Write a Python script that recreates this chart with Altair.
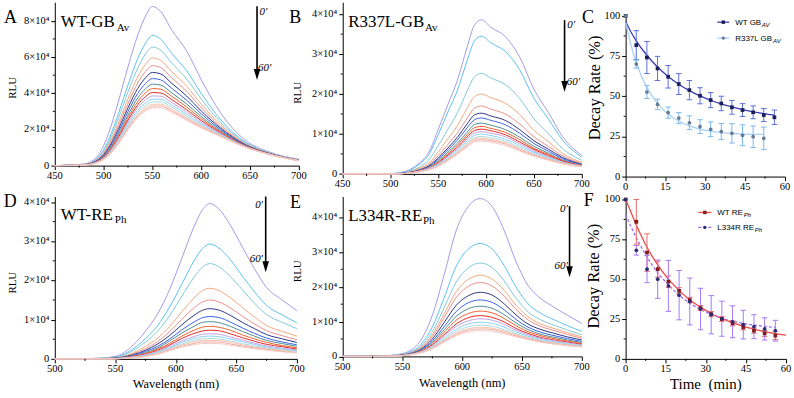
import altair as alt
import pandas as pd

SERIF = "Liberation Serif"
SANS = "Liberation Sans"

CURVE_COLORS = ["#a59ae6", "#5bc3ee", "#82c9d9", "#f4a87c", "#ee8e8c", "#2e3784",
                "#3c62e8", "#4e8e92", "#f0622e", "#e22b26", "#c6a3e6", "#8fd0ef",
                "#abdbe6", "#f7c3a3", "#f2aaa9", "#f5cbc5"]

# ---------------- Panel A: WT-GBAv spectra (values in 1000 RLU) ----------------
A_WL = [450, 480, 495, 505, 515, 525, 535, 543, 550, 558, 570, 585, 600, 620, 645, 670, 700]
A_CURVES = [
    [0, 0.9, 6.2, 17.6, 35.2, 54.6, 72.2, 82.7, 88.0, 85.4, 74.8, 63.4, 47.5, 29.0, 14.1, 7.5, 3.5],
    [0, 0.7, 5.0, 14.1, 28.5, 44.6, 59.2, 67.7, 71.9, 70.1, 61.8, 52.4, 39.9, 25.3, 13.0, 7.1, 3.3],
    [0, 0.7, 4.5, 12.7, 25.8, 40.7, 54.0, 61.7, 65.5, 64.0, 56.6, 48.0, 36.8, 23.8, 12.5, 6.9, 3.2],
    [0, 0.6, 4.0, 11.4, 23.3, 37.0, 49.1, 56.0, 59.5, 58.3, 51.8, 43.9, 34.0, 22.4, 12.1, 6.8, 3.1],
    [0, 0.6, 3.7, 10.5, 21.6, 34.3, 45.7, 52.1, 55.2, 54.3, 48.4, 41.1, 32.0, 21.4, 11.8, 6.7, 3.0],
    [0, 0.5, 3.4, 9.7, 20.0, 32.0, 42.7, 48.6, 51.5, 50.8, 45.4, 38.5, 30.2, 20.6, 11.6, 6.6, 3.0],
    [0, 0.5, 3.2, 9.0, 18.6, 29.9, 39.9, 45.4, 48.1, 47.5, 42.6, 36.2, 28.6, 19.8, 11.3, 6.5, 2.9],
    [0, 0.4, 2.9, 8.3, 17.3, 28.0, 37.4, 42.5, 45.0, 44.6, 40.1, 34.1, 27.1, 19.1, 11.1, 6.4, 2.9],
    [0, 0.4, 2.7, 7.8, 16.3, 26.5, 35.4, 40.3, 42.6, 42.3, 38.2, 32.4, 26.0, 18.5, 11.0, 6.4, 2.9],
    [0, 0.4, 2.6, 7.3, 15.4, 25.2, 33.6, 38.2, 40.4, 40.2, 36.4, 30.9, 24.9, 18.0, 10.8, 6.3, 2.8],
    [0, 0.4, 2.4, 6.9, 14.6, 24.0, 32.1, 36.4, 38.5, 38.4, 34.8, 29.6, 24.0, 17.6, 10.7, 6.3, 2.8],
    [0, 0.4, 2.3, 6.5, 13.9, 22.9, 30.6, 34.7, 36.7, 36.7, 33.4, 28.4, 23.1, 17.1, 10.5, 6.2, 2.8],
    [0, 0.3, 2.2, 6.1, 13.2, 21.9, 29.4, 33.3, 35.1, 35.3, 32.2, 27.3, 22.4, 16.8, 10.4, 6.2, 2.7],
    [0, 0.3, 2.1, 5.9, 12.7, 21.1, 28.3, 32.1, 33.8, 34.0, 31.1, 26.4, 21.8, 16.5, 10.3, 6.2, 2.7],
    [0, 0.3, 2.0, 5.6, 12.2, 20.4, 27.4, 31.0, 32.7, 33.0, 30.2, 25.7, 21.3, 16.2, 10.3, 6.1, 2.7],
    [0, 0.3, 1.9, 5.4, 11.8, 19.8, 26.6, 30.1, 31.7, 32.0, 29.4, 25.0, 20.8, 16.0, 10.2, 6.1, 2.7],
]

# ---------------- Panel B: R337L-GBAv spectra ----------------
B_WL = [450, 500, 515, 530, 540, 550, 560, 570, 580, 588, 595, 605, 620, 635, 650, 665, 680, 700]
B_CURVES = [
    [0, 0.1, 0.6, 2.7, 5.4, 11.2, 17.4, 23.5, 31.7, 37.4, 38.6, 36.7, 34.4, 29.3, 21.2, 15.4, 9.3, 4.6],
    [0, 0.1, 0.5, 2.4, 4.8, 9.9, 15.5, 21.0, 28.3, 33.4, 34.5, 32.8, 30.7, 26.1, 18.9, 13.8, 8.4, 4.2],
    [0, 0, 0.4, 1.7, 3.5, 7.1, 11.2, 15.3, 20.7, 24.4, 25.2, 24.0, 22.4, 18.9, 13.8, 10.1, 6.3, 3.4],
    [0, 0, 0.3, 1.4, 2.7, 5.5, 8.8, 12.1, 16.4, 19.4, 20.0, 19.1, 17.7, 14.9, 10.9, 8.1, 5.1, 2.9],
    [0, 0, 0.2, 1.1, 2.3, 4.6, 7.4, 10.3, 13.9, 16.5, 17.0, 16.2, 15.0, 12.5, 9.3, 6.9, 4.5, 2.6],
    [0, 0, 0.2, 1.0, 2.0, 4.0, 6.5, 9.2, 12.5, 14.8, 15.2, 14.5, 13.4, 11.1, 8.3, 6.2, 4.1, 2.4],
    [0, 0, 0.2, 0.9, 1.8, 3.7, 6.0, 8.5, 11.5, 13.6, 14.0, 13.4, 12.3, 10.2, 7.6, 5.7, 3.8, 2.3],
    [0, 0, 0.1, 0.8, 1.7, 3.3, 5.4, 7.7, 10.4, 12.4, 12.7, 12.2, 11.1, 9.2, 6.9, 5.2, 3.5, 2.2],
    [0, 0, 0.1, 0.8, 1.5, 3.0, 5.0, 7.2, 9.8, 11.6, 11.9, 11.4, 10.4, 8.6, 6.4, 4.9, 3.3, 2.1],
    [0, 0, 0.1, 0.7, 1.4, 2.8, 4.7, 6.7, 9.2, 10.9, 11.2, 10.8, 9.8, 8.0, 6.1, 4.6, 3.2, 2.1],
    [0, 0, 0.1, 0.7, 1.4, 2.6, 4.4, 6.4, 8.7, 10.3, 10.6, 10.2, 9.3, 7.6, 5.7, 4.3, 3.0, 2.0],
    [0, 0, 0.1, 0.6, 1.3, 2.4, 4.1, 6.0, 8.2, 9.7, 10.0, 9.6, 8.7, 7.1, 5.4, 4.1, 2.9, 2.0],
    [0, 0, 0.1, 0.6, 1.2, 2.3, 3.8, 5.6, 7.7, 9.1, 9.4, 9.0, 8.2, 6.6, 5.1, 3.9, 2.8, 1.9],
    [0, 0, 0.1, 0.6, 1.1, 2.1, 3.7, 5.4, 7.4, 8.8, 9.0, 8.6, 7.8, 6.3, 4.8, 3.7, 2.7, 1.9],
    [0, 0, 0.1, 0.5, 1.1, 2.0, 3.5, 5.1, 7.0, 8.4, 8.6, 8.3, 7.5, 6.0, 4.6, 3.6, 2.6, 1.8],
    [0, 0, 0.1, 0.5, 1.0, 1.9, 3.3, 4.9, 6.7, 8.0, 8.2, 7.9, 7.1, 5.7, 4.4, 3.4, 2.5, 1.8],
]

# ---------------- Panel D: WT-REPh spectra ----------------
D_WL = [500, 530, 545, 555, 565, 575, 585, 595, 605, 615, 622, 628, 635, 645, 655, 665, 675, 688, 700]
D_CURVES = [
    [0, 0.1, 0.4, 1.2, 3.6, 7.1, 11.5, 17.8, 25.7, 33.7, 38.0, 39.6, 38.4, 34.1, 28.5, 23.0, 18.2, 15.0, 12.3],
    [0, 0.1, 0.3, 0.9, 2.6, 5.2, 8.5, 13.3, 19.1, 25.0, 28.1, 29.3, 28.4, 25.3, 21.1, 17.1, 13.6, 11.2, 9.2],
    [0, 0, 0.2, 0.7, 2.2, 4.3, 7.1, 11.1, 16.0, 20.8, 23.4, 24.3, 23.6, 21.0, 17.6, 14.2, 11.3, 9.3, 7.7],
    [0, 0, 0.2, 0.5, 1.6, 3.2, 5.3, 8.3, 12.0, 15.5, 17.4, 18.0, 17.5, 15.6, 13.1, 10.7, 8.5, 7.0, 5.8],
    [0, 0, 0.1, 0.4, 1.3, 2.6, 4.4, 7.0, 10.1, 13.0, 14.5, 15.0, 14.6, 13.0, 10.9, 8.9, 7.2, 5.9, 4.9],
    [0, 0, 0.1, 0.4, 1.1, 2.2, 3.8, 6.0, 8.7, 11.1, 12.4, 12.8, 12.5, 11.1, 9.3, 7.7, 6.2, 5.1, 4.2],
    [0, 0, 0.1, 0.3, 0.9, 1.9, 3.2, 5.1, 7.4, 9.4, 10.5, 10.8, 10.6, 9.4, 7.9, 6.5, 5.3, 4.3, 3.6],
    [0, 0, 0.1, 0.3, 0.8, 1.6, 2.8, 4.6, 6.6, 8.3, 9.3, 9.5, 9.3, 8.3, 7.0, 5.8, 4.7, 3.9, 3.2],
    [0, 0, 0, 0.2, 0.7, 1.4, 2.5, 4.0, 5.8, 7.3, 8.1, 8.3, 8.1, 7.3, 6.1, 5.1, 4.2, 3.4, 2.8],
    [0, 0, 0, 0.2, 0.6, 1.2, 2.2, 3.6, 5.2, 6.5, 7.1, 7.3, 7.2, 6.4, 5.4, 4.5, 3.7, 3.1, 2.5],
    [0, 0, 0, 0.2, 0.5, 1.1, 1.9, 3.2, 4.6, 5.7, 6.3, 6.4, 6.3, 5.6, 4.8, 4.0, 3.3, 2.7, 2.3],
    [0, 0, 0, 0.2, 0.5, 0.9, 1.8, 2.9, 4.2, 5.2, 5.7, 5.8, 5.7, 5.1, 4.4, 3.7, 3.0, 2.5, 2.1],
    [0, 0, 0, 0.1, 0.4, 0.8, 1.6, 2.7, 3.8, 4.7, 5.1, 5.2, 5.1, 4.6, 3.9, 3.3, 2.8, 2.3, 1.9],
    [0, 0, 0, 0.1, 0.4, 0.7, 1.4, 2.5, 3.5, 4.3, 4.7, 4.7, 4.7, 4.2, 3.6, 3.0, 2.6, 2.1, 1.7],
    [0, 0, 0, 0.1, 0.3, 0.7, 1.3, 2.3, 3.2, 3.9, 4.3, 4.3, 4.3, 3.8, 3.3, 2.8, 2.4, 1.9, 1.6],
    [0, 0, 0, 0.1, 0.3, 0.6, 1.2, 2.1, 3.0, 3.6, 3.9, 3.9, 3.9, 3.5, 3.0, 2.6, 2.2, 1.8, 1.5],
]

# ---------------- Panel E: L334R-REPh spectra ----------------
E_WL = [500, 530, 545, 555, 565, 575, 585, 595, 605, 615, 625, 635, 645, 655, 665, 675, 688, 700]
E_CURVES = [
    [0, 0.1, 0.5, 1.4, 4.5, 11.8, 23.6, 36.2, 43.0, 45.3, 43.0, 36.2, 27.2, 20.4, 16.8, 14.5, 11.8, 9.5],
    [0, 0.1, 0.4, 1.1, 3.3, 8.5, 17.0, 25.9, 30.8, 32.4, 30.8, 26.1, 19.9, 15.1, 12.5, 10.8, 8.8, 7.2],
    [0, 0, 0.3, 0.9, 2.8, 7.1, 14.1, 21.4, 25.4, 26.8, 25.5, 21.7, 16.7, 12.8, 10.6, 9.2, 7.6, 6.2],
    [0, 0, 0.3, 0.8, 2.5, 6.2, 12.3, 18.6, 22.1, 23.3, 22.2, 19.0, 14.7, 11.4, 9.4, 8.2, 6.8, 5.6],
    [0, 0, 0.2, 0.8, 2.3, 5.7, 11.2, 16.9, 20.1, 21.2, 20.2, 17.3, 13.5, 10.5, 8.7, 7.6, 6.3, 5.2],
    [0, 0, 0.2, 0.7, 2.0, 5.0, 9.8, 14.7, 17.4, 18.4, 17.6, 15.1, 11.9, 9.3, 7.8, 6.8, 5.6, 4.7],
    [0, 0, 0.2, 0.6, 1.8, 4.4, 8.6, 12.9, 15.4, 16.2, 15.5, 13.4, 10.6, 8.4, 7.0, 6.1, 5.1, 4.3],
    [0, 0, 0.2, 0.6, 1.7, 4.0, 7.7, 11.5, 13.7, 14.4, 13.8, 12.0, 9.6, 7.7, 6.4, 5.6, 4.7, 4.0],
    [0, 0, 0.2, 0.5, 1.5, 3.6, 7.0, 10.4, 12.3, 13.0, 12.5, 10.9, 8.8, 7.1, 6.0, 5.2, 4.4, 3.7],
    [0, 0, 0.1, 0.5, 1.4, 3.3, 6.3, 9.3, 11.1, 11.7, 11.2, 9.9, 8.0, 6.6, 5.5, 4.8, 4.1, 3.5],
    [0, 0, 0.1, 0.5, 1.3, 3.1, 5.9, 8.6, 10.2, 10.8, 10.4, 9.2, 7.5, 6.2, 5.2, 4.6, 3.9, 3.3],
    [0, 0, 0.1, 0.5, 1.2, 2.8, 5.3, 7.8, 9.3, 9.8, 9.5, 8.4, 7.0, 5.8, 4.9, 4.3, 3.6, 3.1],
    [0, 0, 0.1, 0.4, 1.2, 2.6, 4.9, 7.2, 8.5, 9.0, 8.7, 7.7, 6.5, 5.5, 4.6, 4.1, 3.5, 3.0],
    [0, 0, 0.1, 0.4, 1.1, 2.5, 4.6, 6.7, 7.9, 8.4, 8.1, 7.3, 6.2, 5.2, 4.4, 3.9, 3.3, 2.9],
    [0, 0, 0.1, 0.4, 1.0, 2.3, 4.4, 6.3, 7.5, 7.9, 7.7, 6.9, 5.9, 5.0, 4.3, 3.7, 3.2, 2.8],
    [0, 0, 0.1, 0.4, 1.0, 2.2, 4.1, 5.9, 7.0, 7.4, 7.2, 6.5, 5.6, 4.8, 4.1, 3.6, 3.1, 2.7],
]

# ---------------- Panel C: decay GBAv ----------------
C_TIME = [0, 4, 8, 12, 16, 20, 24, 28, 32, 36, 40, 44, 48, 52, 56]
C_WT = [100, 81.8, 74.1, 67.3, 62.1, 57.6, 53.8, 50.3, 47.6, 45.5, 43.1, 41.4, 40.0, 38.3, 36.9]
C_WT_ERR = [0, 9, 10, 7.5, 7, 6.5, 6, 5, 4.7, 4.5, 4.3, 4.0, 4.0, 4.0, 4.5]
C_MUT_TIME = [0, 4, 8, 12, 16, 20, 24, 28, 32, 36, 40, 44, 48, 52]
C_MUT = [100, 70, 52.6, 44.9, 39.8, 36.4, 33.5, 31.1, 29.4, 28.0, 26.9, 25.7, 24.8, 23.8]
C_MUT_ERR = [0, 2.5, 4, 3.3, 3.5, 3.5, 4.3, 4.3, 4.6, 5, 6, 6.5, 6.7, 7]
C_WT_FIT_T = [0, 2, 4, 8, 12, 16, 20, 24, 28, 32, 36, 40, 44, 48, 52, 56]
C_WT_FIT = [96.5, 90, 84.5, 75.5, 68.2, 62.3, 57.5, 53.5, 50.2, 47.5, 45.2, 43.3, 41.7, 40.3, 39.2, 38.3]
C_MUT_FIT_T = [0, 2, 4, 6, 8, 12, 16, 20, 24, 28, 32, 36, 40, 44, 48, 52]
C_MUT_FIT = [96, 82, 71, 62.5, 55.5, 45.5, 39, 34.6, 31.6, 29.6, 28.3, 27.4, 26.8, 26.5, 26.3, 26.2]

# ---------------- Panel F: decay REPh ----------------
F_TIME = [0, 4, 8, 12, 16, 20, 24, 28, 32, 36, 40, 44, 48, 52, 56]
F_WT = [100, 86, 66.7, 56.3, 48.5, 42.7, 36.9, 31.9, 28.1, 25.0, 22.3, 19.8, 17.7, 16.0, 14.6]
F_WT_ERR = [0, 14, 11.8, 5, 3.5, 2, 1.7, 1.5, 1.6, 1.5, 1.5, 1.6, 1.6, 1.9, 2.5]
F_MUT = [100, 68.1, 56.3, 50.0, 45.8, 40.0, 36.0, 31.3, 27.7, 25.2, 23.3, 21.5, 20.2, 18.8, 17.7]
F_MUT_ERR = [0, 3, 8.5, 12, 16, 15.5, 14.7, 13, 12, 11, 10, 9, 7.5, 7, 6.5]
F_WT_FIT_T = [0, 2, 4, 8, 12, 16, 20, 24, 28, 32, 36, 40, 44, 48, 52, 56, 60]
F_WT_FIT = [100, 92, 84, 70, 59, 50, 43, 37, 32.5, 28.5, 25.3, 22.7, 20.4, 18.6, 17.1, 15.9, 14.9]
F_MUT_FIT_T = [0, 2, 4, 8, 12, 16, 20, 24, 28, 32, 36, 40, 44, 48, 52, 56]
F_MUT_FIT = [90.5, 83, 76, 64, 54, 46.5, 40, 35, 31, 28, 25.6, 23.7, 22.3, 21.2, 20.4, 19.8]

# axis ticks and tick labels
SPEC_A_X_MAJOR = [450, 500, 550, 600, 650, 700]
SPEC_A_X_MINOR = [475, 525, 575, 625, 675]
SPEC_D_X_MAJOR = [500, 550, 600, 650, 700]
SPEC_D_X_MINOR = [525, 575, 625, 675]
A_Y_MAJOR = [0, 20000, 40000, 60000, 80000]
A_Y_LABELS = ["0", "2×10⁴", "4×10⁴", "6×10⁴", "8×10⁴"]
A_Y_MINOR = [10000, 30000, 50000, 70000]
BDE_Y_MAJOR = [0, 10000, 20000, 30000, 40000]
BDE_Y_LABELS = ["0", "1×10⁴", "2×10⁴", "3×10⁴", "4×10⁴"]
BDE_Y_MINOR = [5000, 15000, 25000, 35000]
T_MAJOR = [0, 15, 30, 45, 60]
T_MINOR = [7.5, 22.5, 37.5, 52.5]
P_MAJOR = [0, 25, 50, 75, 100]
P_MINOR = [12.5, 37.5, 62.5, 87.5]


# ---------------- helpers ----------------
def one():
    return pd.DataFrame({"a": [0]})


def txt(x, y, s, size, font=SERIF, align="left", style="normal"):
    return alt.Chart(pd.DataFrame({"t": [s]})).mark_text(
        align=align, baseline="alphabetic", font=font, fontSize=size,
        fontStyle=style, fontWeight="normal", color="black"
    ).encode(x=alt.value(x), y=alt.value(y), text="t:N")


def rtxt(x, y, s, size):
    return alt.Chart(pd.DataFrame({"t": [s]})).mark_text(
        align="center", baseline="bottom", angle=270, font=SERIF, fontSize=size,
        fontWeight="normal", color="black"
    ).encode(x=alt.value(x), y=alt.value(y), text="t:N")


def arrow(x, y1, tip):
    shaft = alt.Chart(one()).mark_rule(color="black", strokeWidth=1.6).encode(
        x=alt.value(x), y=alt.value(y1), y2=alt.value(tip - 8))
    head = alt.Chart(one()).mark_point(
        shape="M-0.6,-1L0.6,-1L0,1Z", filled=True, color="black", size=121, opacity=1
    ).encode(x=alt.value(x), y=alt.value(tip - 5.5))
    return [shaft, head]


AX = dict(domainColor="black", domainWidth=1, tickColor="black", tickWidth=1, tickSize=4,
          labels=False, grid=False, title=None)


def guides(xscale, xaxis, xmajor, xlabels, xminor, yscale, yaxis, ymajor, ylabels, yminor, bottom):
    mx = alt.Chart(pd.DataFrame({"mx": xminor})).mark_rule(color="black", strokeWidth=1).encode(
        x=alt.X("mx:Q", scale=xscale, axis=xaxis),
        y=alt.value(bottom), y2=alt.value(bottom + 2))
    my = alt.Chart(pd.DataFrame({"my": yminor})).mark_rule(color="black", strokeWidth=1).encode(
        y=alt.Y("my:Q", scale=yscale, axis=yaxis),
        x=alt.value(-2), x2=alt.value(0))
    lx = alt.Chart(pd.DataFrame({"lx": xmajor, "s": xlabels})).mark_text(
        font=SERIF, fontSize=10.5, align="center", baseline="top", color="black"
    ).encode(x=alt.X("lx:Q", scale=xscale, axis=xaxis), y=alt.value(bottom + 5.5), text="s:N")
    ly = alt.Chart(pd.DataFrame({"ly": ymajor, "s": ylabels})).mark_text(
        font=SERIF, fontSize=10.5, align="right", baseline="middle", color="black"
    ).encode(y=alt.Y("ly:Q", scale=yscale, axis=yaxis), x=alt.value(-5.5), text="s:N")
    return [mx, my, lx, ly]


def spectra_panel(wl, curves, xmin, ymax, xmajor, xminor, ymajor, ylabels, yminor,
                  width, height, extras):
    rows = []
    for ci, vals in enumerate(curves):
        for w, v in zip(wl, vals):
            rows.append({"wl": w, "rlu": v * 1000.0, "curve": ci})
    df = pd.DataFrame(rows)
    xscale = alt.Scale(domain=[xmin, 700], nice=False, zero=False)
    yscale = alt.Scale(domain=[0, ymax], nice=False)
    xaxis = alt.Axis(values=xmajor, **AX)
    yaxis = alt.Axis(values=ymajor, **AX)
    lines = alt.Chart(df).mark_line(strokeWidth=1, interpolate="monotone").encode(
        x=alt.X("wl:Q", scale=xscale, axis=xaxis),
        y=alt.Y("rlu:Q", scale=yscale, axis=yaxis),
        color=alt.Color("curve:N", scale=alt.Scale(domain=list(range(16)), range=CURVE_COLORS),
                        legend=None),
    )
    g = guides(xscale, xaxis, xmajor, [str(v) for v in xmajor], xminor,
               yscale, yaxis, ymajor, ylabels, yminor, height)
    return alt.layer(lines, *g, *extras).properties(width=width, height=height)


def decay_panel(series, width, height, yrange, extras):
    layers = []
    xscale = alt.Scale(domain=[0, 60], nice=False)
    yscale = alt.Scale(domain=[0, 100], range=yrange, nice=False)
    xaxis = alt.Axis(values=T_MAJOR, **AX)
    yaxis = alt.Axis(values=P_MAJOR, **AX)
    X = lambda f: alt.X(f + ":Q", scale=xscale, axis=xaxis)
    Y = lambda f: alt.Y(f + ":Q", scale=yscale, axis=yaxis)
    for s in series:
        fit = pd.DataFrame({"t": s["fit_t"], "v": s["fit"]})
        kw = {}
        if s.get("dash"):
            kw["strokeDash"] = s["dash"]
        layers.append(alt.Chart(fit).mark_line(color=s["line"], strokeWidth=1.3,
                                               interpolate="monotone", **kw)
                      .encode(x=X("t"), y=Y("v")))
    for s in series:
        pts = pd.DataFrame({"t": s["t"], "v": s["v"], "e": s["err"]})
        pts["lo"] = pts["v"] - pts["e"]
        pts["hi"] = pts["v"] + pts["e"]
        eb = pts[pts["e"] > 0]
        layers.append(alt.Chart(eb).mark_rule(color=s["ecolor"], strokeWidth=1).encode(
            x=X("t"), y=Y("lo"), y2="hi:Q"))
        for col in ["lo", "hi"]:
            layers.append(alt.Chart(eb).mark_point(shape="stroke", size=30, color=s["ecolor"],
                                                   strokeWidth=1, opacity=1).encode(
                x=X("t"), y=Y(col)))
    for s in series:
        pts = pd.DataFrame({"t": s["t"], "v": s["v"]})
        layers.append(alt.Chart(pts).mark_point(shape=s["shape"], filled=True, size=14,
                                                color=s["mcolor"], opacity=1).encode(
            x=X("t"), y=Y("v")))
    g = guides(xscale, xaxis, T_MAJOR, [str(v) for v in T_MAJOR], T_MINOR,
               yscale, yaxis, P_MAJOR, [str(v) for v in P_MAJOR], P_MINOR, yrange[0])
    return alt.layer(*layers, *g, *extras).properties(width=width, height=height)


def legend_row(x0, x1, y, color, mshape, mcolor, label, sub, sub_x, dash=None):
    kw = {}
    if dash:
        kw["strokeDash"] = dash
    line = alt.Chart(one()).mark_rule(color=color, strokeWidth=1.3, **kw).encode(
        x=alt.value(x0), x2=alt.value(x1), y=alt.value(y))
    pt = alt.Chart(one()).mark_point(shape=mshape, filled=True, size=12, color=mcolor,
                                     opacity=1).encode(x=alt.value((x0 + x1) / 2), y=alt.value(y))
    t1 = txt(x1 + 6, y + 3, label, 8, font=SANS)
    t2 = txt(sub_x, y + 4.5, sub, 6, font=SANS, style="italic")
    return [line, pt, t1, t2]


# ---------------- panels ----------------
A = spectra_panel(
    A_WL, A_CURVES, 450, 90300, SPEC_A_X_MAJOR, SPEC_A_X_MINOR, A_Y_MAJOR, A_Y_LABELS, A_Y_MINOR,
    245, 164,
    [txt(-51, 20.7, "A", 18), txt(6, 25, "WT-GB", 17), txt(62.2, 28.5, "Av", 11),
     rtxt(-37, 86, "RLU", 11)]
    + arrow(203, 4, 78)
    + [txt(205.5, 13, "0′", 11, style="italic"), txt(204, 69, "60′", 11, style="italic")])

B = spectra_panel(
    B_WL, B_CURVES, 450, 43000, SPEC_A_X_MAJOR, SPEC_A_X_MINOR, BDE_Y_MAJOR, BDE_Y_LABELS,
    BDE_Y_MINOR, 240, 172.3,
    [txt(-53.7, 21.3, "B", 18), txt(5.5, 25.3, "R337L-GB", 17), txt(82.5, 28.5, "Av", 11),
     rtxt(-40, 91, "RLU", 11)]
    + arrow(222.7, 18, 90)
    + [txt(225.5, 26, "0′", 11, style="italic"), txt(225, 83, "60′", 11, style="italic")])

C = decay_panel(
    [dict(t=C_TIME, v=C_WT, err=C_WT_ERR, fit_t=C_WT_FIT_T, fit=C_WT_FIT, line="#3b3db5",
          ecolor="#5b6fe0", mcolor="#1c1f5a", shape="square"),
     dict(t=C_MUT_TIME, v=C_MUT, err=C_MUT_ERR, fit_t=C_MUT_FIT_T, fit=C_MUT_FIT,
          line="#a9d1f7", ecolor="#7cbaf0", mcolor="#667a92", shape="circle")],
    160, 175, [175, 13.7],
    [txt(-43.7, 20.7, "C", 18), rtxt(-23, 86, "Decay Rate (%)", 16.5)]
    + legend_row(92, 104, 20, "#3b3db5", "square", "#1c1f5a", "WT GB", "AV", 136.7)
    + legend_row(92, 104, 36, "#a9d1f7", "circle", "#667a92", "R337L GB", "AV", 148))

D = spectra_panel(
    D_WL, D_CURVES, 500, 41400, SPEC_D_X_MAJOR, SPEC_D_X_MINOR, BDE_Y_MAJOR, BDE_Y_LABELS,
    BDE_Y_MINOR, 243, 163,
    [txt(-51.3, 10.7, "D", 18), txt(6, 24, "WT-RE", 17), txt(60.3, 27, "Ph", 11),
     rtxt(-37, 86.5, "RLU", 11), txt(121.5, 192, "Wavelength (nm)", 12.5, align="center")]
    + arrow(211.7, 0, 76)
    + [txt(209, 12, "0′", 11, align="right", style="italic"),
       txt(209, 66, "60′", 11, align="right", style="italic")])

E = spectra_panel(
    E_WL, E_CURVES, 500, 45900, SPEC_D_X_MAJOR, SPEC_D_X_MINOR, BDE_Y_MAJOR, BDE_Y_LABELS,
    BDE_Y_MINOR, 240, 160.5,
    [txt(-53, 11.3, "E", 18), txt(5.5, 25, "L334R-RE", 17), txt(80.6, 28, "Ph", 11),
     rtxt(-40, 75, "RLU", 11), txt(120, 191, "Wavelength (nm)", 12.5, align="center")]
    + arrow(227.7, 9.7, 81)
    + [txt(226, 16, "0′", 11, align="right", style="italic"),
       txt(226, 73, "60′", 11, align="right", style="italic")])

F = decay_panel(
    [dict(t=F_TIME, v=F_WT, err=F_WT_ERR, fit_t=F_WT_FIT_T, fit=F_WT_FIT, line="#f04848",
          ecolor="#f06a6a", mcolor="#7d1f1f", shape="square"),
     dict(t=F_TIME, v=F_MUT, err=F_MUT_ERR, fit_t=F_MUT_FIT_T, fit=F_MUT_FIT,
          line="#9d6cf0", ecolor="#a57af6", mcolor="#2b2b70", shape="circle", dash=[3, 2])],
    161, 163, [163, 3],
    [txt(-42, 9.7, "F", 18), rtxt(-24, 80, "Decay Rate (%)", 16.5),
     txt(80.5, 193, "Time\u00a0 (min)", 15, align="center")]
    + legend_row(73, 86, 16, "#f04848", "square", "#7d1f1f", "WT RE", "Ph", 118.5)
    + legend_row(73, 86, 31, "#9d6cf0", "circle", "#2b2b70", "L334R RE", "Ph", 129.5, dash=[3, 2]))

chart = alt.concat(A, B, C, D, E, F, columns=3, spacing=alt.RowColnumber(row=20, column=44),
                   bounds="flush").properties(
    padding={"left": 3, "top": 1.5, "right": 2, "bottom": 2},
    background="white",
).configure_view(stroke=None)

chart.save("out.html", embed_options={"renderer": "svg", "actions": False})
